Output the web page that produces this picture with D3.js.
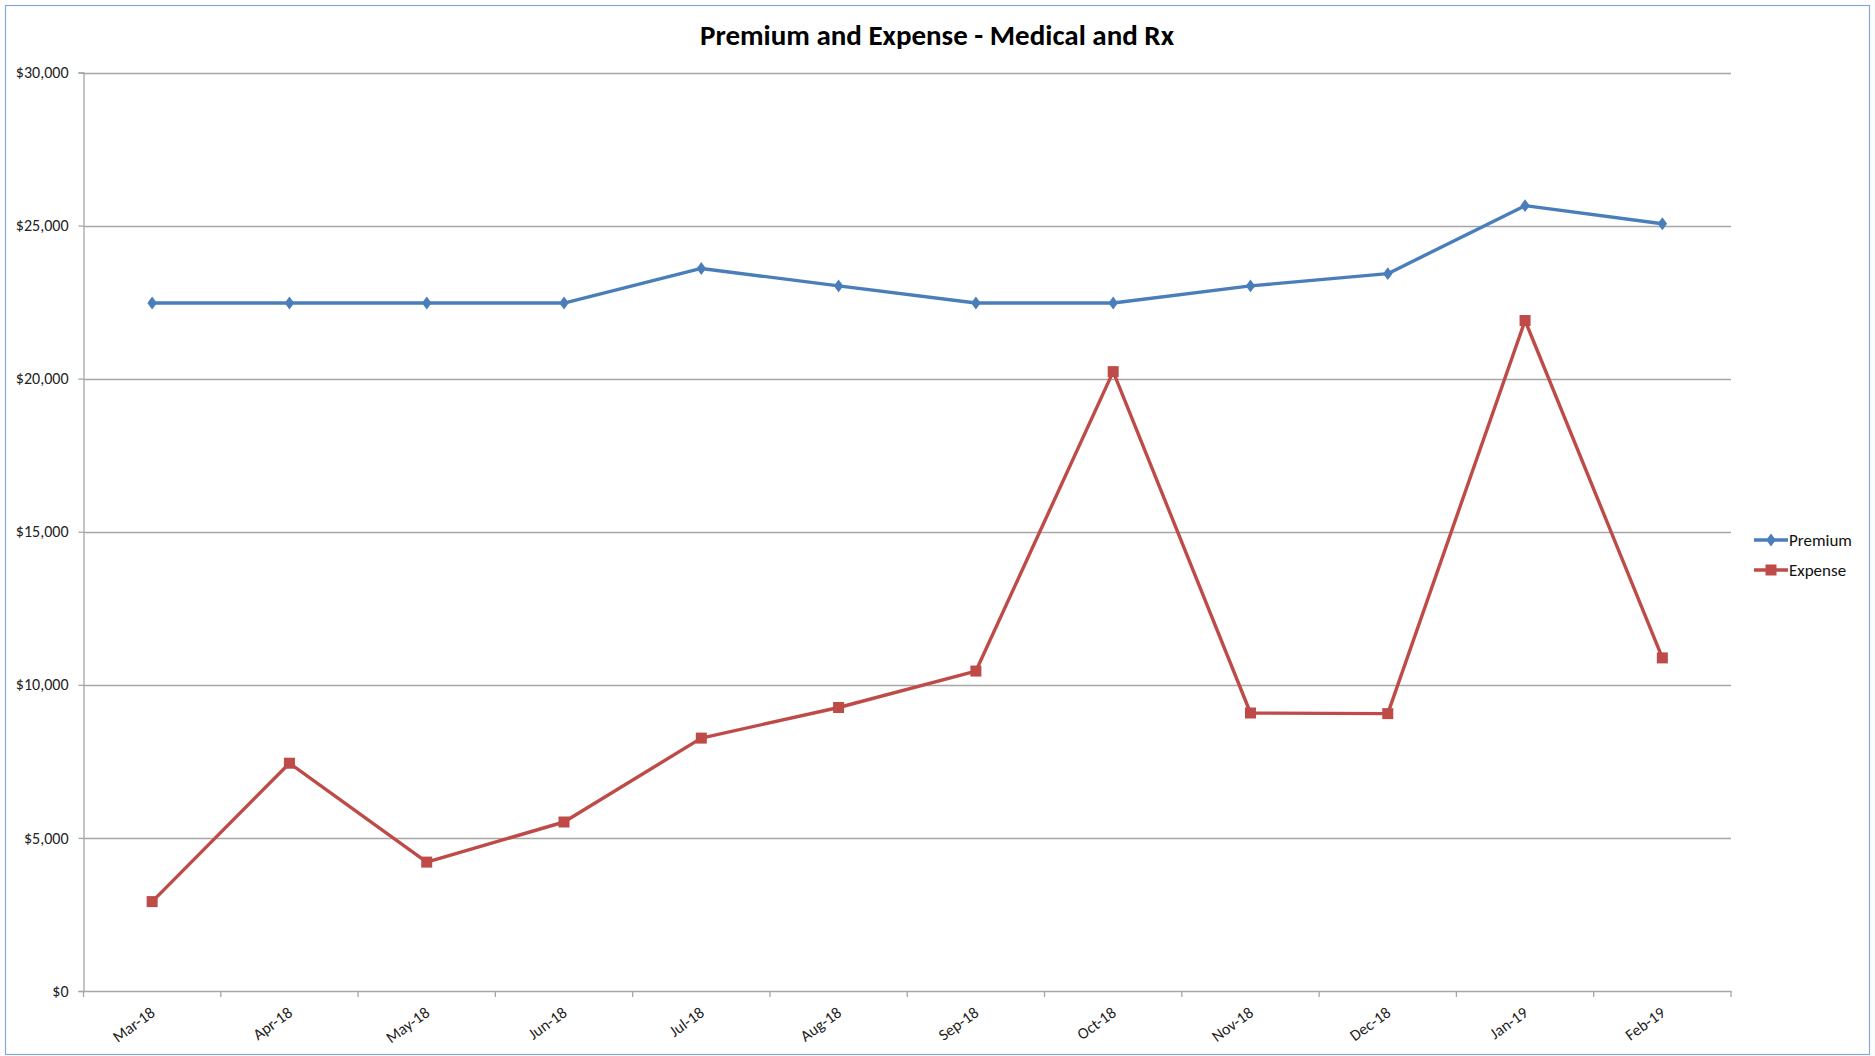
<!DOCTYPE html>
<html>
<head>
<meta charset="utf-8">
<script src="https://cdn.jsdelivr.net/npm/d3@7"></script>
<style>
  html, body { margin: 0; padding: 0; background: #fff; }
  svg { display: block; font-family: Carlito, Calibri, Lato, "Liberation Sans", sans-serif; }
</style>
</head>
<body>
<svg id="chart" width="1875" height="1056"></svg>
<script>
const months = ["Mar-18","Apr-18","May-18","Jun-18","Jul-18","Aug-18","Sep-18","Oct-18","Nov-18","Dec-18","Jan-19","Feb-19"];
const premium = [22470, 22470, 22470, 22470, 23600, 23030, 22470, 22470, 23030, 23430, 25650, 25060];
const expense = [2920, 7440, 4210, 5520, 8260, 9260, 10450, 20230, 9080, 9060, 21900, 10880];
const yTicks = [0, 5000, 10000, 15000, 20000, 25000, 30000];
const seriesNames = ["Premium", "Expense"];
const titleText = "Premium and Expense - Medical and Rx";

const svg = d3.select("#chart");
const W = 1875, H = 1056;
const pLeft = 83.5, pRight = 1731, pTop = 72.5, pBottom = 991;
const font = "Carlito, Calibri, Lato, sans-serif";

// chart border
svg.append("rect").attr("x", 5.5).attr("y", 5.5).attr("width", W - 11).attr("height", H - 7)
  .attr("fill", "#fff").attr("stroke", "#86a8d8").attr("stroke-width", 1.2);

const x = d3.scaleBand().domain(months).range([pLeft, pRight]).padding(0);
const y = d3.scaleLinear().domain([0, 30000]).range([pBottom, pTop]);
const cx = m => x(m) + x.bandwidth() / 2;

// gridlines
svg.append("g").selectAll("line").data(yTicks.filter(v => v > 0)).join("line")
  .attr("x1", pLeft).attr("x2", pRight)
  .attr("y1", d => Math.round(y(d)) + 0.5).attr("y2", d => Math.round(y(d)) + 0.5)
  .attr("stroke", "#a6a6a6").attr("stroke-width", 1.3);

// y axis
const yAxis = svg.append("g").attr("transform", `translate(${pLeft},0)`)
  .call(d3.axisLeft(y).tickValues(yTicks).tickFormat(d3.format("$,")).tickSize(5).tickPadding(10));
yAxis.select(".domain").attr("stroke", "#a6a6a6").attr("stroke-width", 1.3);
yAxis.selectAll(".tick line").attr("stroke", "#a6a6a6").attr("stroke-width", 1.3);
yAxis.selectAll(".tick text").attr("font-size", 16).attr("fill", "#222")
  .attr("font-family", font);

// x axis
const xAxis = svg.append("g").attr("transform", `translate(0,${pBottom})`)
  .call(d3.axisBottom(x).tickSize(0).tickPadding(0));
xAxis.select(".domain").attr("stroke", "#a6a6a6").attr("stroke-width", 1.3);
xAxis.selectAll(".tick text")
  .attr("font-size", 16).attr("fill", "#222")
  .attr("font-family", font)
  .attr("text-anchor", "end")
  .attr("dy", "0")
  .attr("transform", "translate(4,24) rotate(-36)");
// boundary tick marks
const bounds = months.map(m => x(m)).concat([pRight]);
svg.append("g").selectAll("line").data(bounds).join("line")
  .attr("x1", d => d).attr("x2", d => d).attr("y1", pBottom).attr("y2", pBottom + 6)
  .attr("stroke", "#a6a6a6").attr("stroke-width", 1.3);

// lines
const colors = ["#4a7ebb", "#be4b48"];
const data = [premium, expense];
const lineGen = d3.line().x((d, i) => cx(months[i])).y(d => y(d));
data.forEach((arr, k) => {
  svg.append("path").datum(arr).attr("d", lineGen)
    .attr("fill", "none").attr("stroke", colors[k]).attr("stroke-width", 3.4)
    .attr("stroke-linejoin", "round");
});
// markers
const diamond = d3.symbol().type(d3.symbolDiamond2).size(80);
svg.append("g").selectAll("path").data(premium).join("path")
  .attr("d", diamond)
  .attr("transform", (d, i) => `translate(${cx(months[i])},${y(d)}) scale(0.85,1.15)`)
  .attr("fill", colors[0]);
svg.append("g").selectAll("rect").data(expense).join("rect")
  .attr("x", (d, i) => cx(months[i]) - 5.5).attr("y", d => y(d) - 5.5)
  .attr("width", 11).attr("height", 11).attr("fill", colors[1]);

// title
svg.append("text").attr("x", 937).attr("y", 45).attr("text-anchor", "middle")
  .attr("font-size", 29).attr("font-weight", "bold").attr("fill", "#000")
  .attr("font-family", font)
  .text(titleText);

// legend
const legY = [540, 570];
seriesNames.forEach((name, k) => {
  const g = svg.append("g");
  g.append("line").attr("x1", 1754).attr("x2", 1788).attr("y1", legY[k]).attr("y2", legY[k])
    .attr("stroke", colors[k]).attr("stroke-width", 3.4);
  if (k === 0) {
    g.append("path").attr("d", diamond)
      .attr("transform", `translate(1771,${legY[k]}) scale(0.85,1.15)`).attr("fill", colors[k]);
  } else {
    g.append("rect").attr("x", 1765.5).attr("y", legY[k] - 5.5).attr("width", 11).attr("height", 11)
      .attr("fill", colors[k]);
  }
  g.append("text").attr("x", 1789).attr("y", legY[k] + 6).attr("font-size", 17).attr("fill", "#111")
    .attr("font-family", font)
    .text(name);
});
</script>
</body>
</html>
